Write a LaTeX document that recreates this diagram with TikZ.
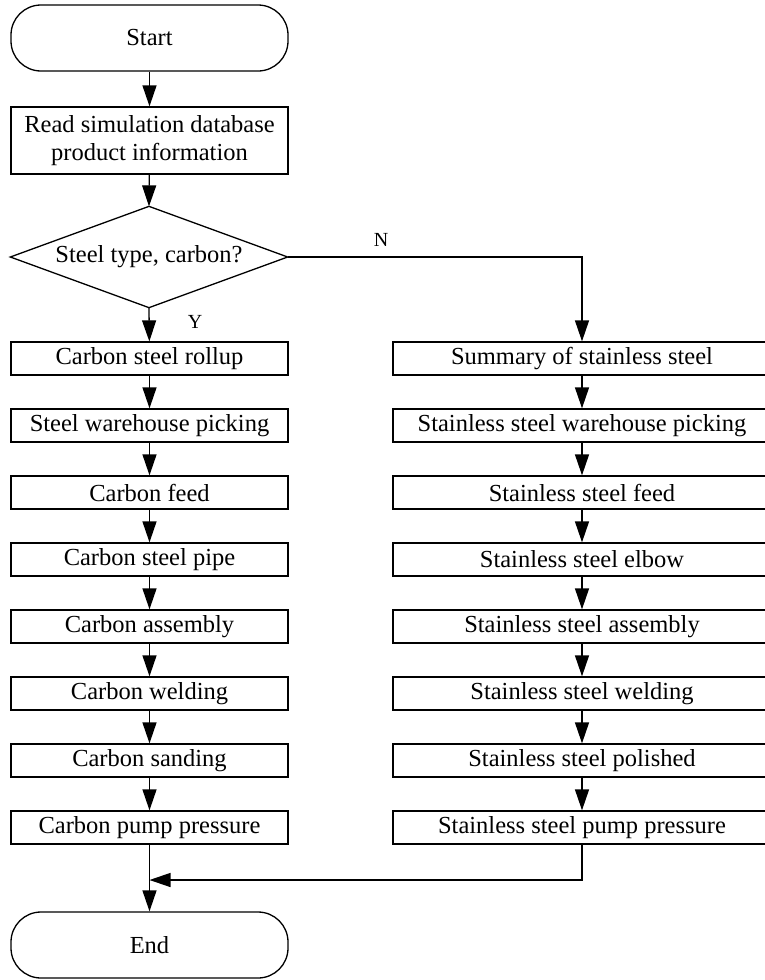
\documentclass[tikz,border=0pt]{standalone}
\usepackage{fontspec}
\setmainfont{Liberation Serif}
\usetikzlibrary{arrows.meta}
\begin{document}
\begin{tikzpicture}[x=1pt,y=-1pt,
  every node/.style={font=\fontsize{24.5}{28}\selectfont, line width=1.3pt},
  lbox/.style={draw, rectangle, minimum width=277pt, minimum height=33pt, inner sep=0pt},
  rbox/.style={draw, rectangle, minimum width=378pt, minimum height=33pt, inner sep=0pt},
  term/.style={draw, rectangle, rounded corners=30pt, minimum width=277pt, minimum height=66pt, inner sep=0pt},
  dec/.style={rectangle, minimum width=276pt, minimum height=100pt, inner sep=0pt},
  lbl/.style={font=\fontsize{20}{22}\selectfont},
  flow/.style={line width=1.3pt, -{Triangle[length=21pt,width=14pt]}},
  plain/.style={line width=1.3pt}]
\useasboundingbox (0,0) rectangle (765,980);
\node[term] (start) at (149.5,38) {Start};
\node[draw, rectangle, minimum width=277pt, minimum height=67pt, inner sep=0pt, align=center] (read) at (149.5,140.5) {Read simulation database\\product information};
\node[dec] (dec) at (149,257) {Steel type, carbon?};
\draw[plain] (dec.west) -- (dec.north) -- (dec.east) -- (dec.south) -- cycle;
\node[lbox] (l1) at (149.5,358.5) {Carbon steel rollup};
\node[lbox] (l2) at (149.5,425.5) {Steel warehouse picking};
\node[lbox] (l3) at (149.5,492.5) {Carbon feed};
\node[lbox] (l4) at (149.5,559.5) {Carbon steel pipe};
\node[lbox] (l5) at (149.5,626.5) {Carbon assembly};
\node[lbox] (l6) at (149.5,693.5) {Carbon welding};
\node[lbox] (l7) at (149.5,760.5) {Carbon sanding};
\node[lbox] (l8) at (149.5,827.5) {Carbon pump pressure};
\node[rbox] (r1) at (582,358.5) {Summary of stainless steel};
\node[rbox] (r2) at (582,425.5) {Stainless steel warehouse picking};
\node[rbox] (r3) at (582,492.5) {Stainless steel feed};
\node[rbox] (r4) at (582,559.5) {Stainless steel elbow};
\node[rbox] (r5) at (582,626.5) {Stainless steel assembly};
\node[rbox] (r6) at (582,693.5) {Stainless steel welding};
\node[rbox] (r7) at (582,760.5) {Stainless steel polished};
\node[rbox] (r8) at (582,827.5) {Stainless steel pump pressure};
\node[term] (end) at (149.5,945) {End};
\node[lbl] (n) at (381,240) {N};
\node[lbl] (y) at (195,322) {Y};
\coordinate (mj) at (149.5,880);
\draw[flow] (start) -- (read);
\draw[flow] (read) -- (dec.north);
\draw[flow] (dec.south) -- (l1);
\draw[flow] (dec.east) -| (r1.north);
\foreach \a/\b in {l1/l2,l2/l3,l3/l4,l4/l5,l5/l6,l6/l7,l7/l8,r1/r2,r2/r3,r3/r4,r4/r5,r5/r6,r6/r7,r7/r8}
  \draw[flow] (\a) -- (\b);
\draw[flow] (l8) -- (end);
\draw[flow] (r8.south) |- (mj);
\end{tikzpicture}
\end{document}
